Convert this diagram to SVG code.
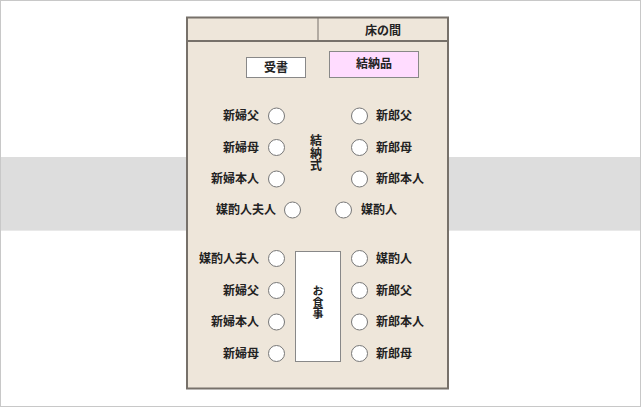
<svg xmlns="http://www.w3.org/2000/svg" width="641" height="407" viewBox="0 0 641 407">
<style>
text{font-family:"Noto Sans CJK JP","Noto Sans CJK SC",sans-serif;font-size:12px;font-weight:bold;fill:#222}
.seat{fill:#fff;stroke:#777;stroke-width:1}
.l{text-anchor:end}
.m{text-anchor:middle}
.v{writing-mode:vertical-rl;text-anchor:middle;letter-spacing:0.5px}
.box{stroke:#888;stroke-width:1}
</style>
<rect id="frame" x="0.5" y="0.5" width="640" height="406" fill="#fff" stroke="#c8c8c8"/>
<g id="band">
<rect x="1" y="157" width="639" height="73" fill="#dddddd"/>
<rect x="1" y="230" width="639" height="1" fill="#e9e9e9"/>
</g>
<g id="room">
<rect x="187" y="17.5" width="261" height="371" fill="#eee6da" stroke="#77716a" stroke-width="2"/>
<line x1="187" y1="41" x2="448" y2="41" stroke="#77716a" stroke-width="2"/>
<line x1="318" y1="17.5" x2="318" y2="41" stroke="#77716a" stroke-width="1"/>
<text class="m" x="383" y="35">床の間</text>
</g>
<g id="ukesho"><rect class="box" x="246.5" y="57.5" width="59" height="20" fill="#fff"/><text class="m" x="276" y="72">受書</text></g>
<g id="yuinouhin"><rect class="box" x="329.5" y="51.5" width="89" height="26" fill="#ffdcff"/><text class="m" x="374" y="68">結納品</text></g>
<g id="yuinoushiki"><text class="v" x="316" y="153.5">結納式</text></g>
<g id="seat-top-bride-father"><circle class="seat" cx="276.5" cy="116" r="8"/><text class="l" x="259" y="120">新婦父</text></g>
<g id="seat-top-bride-mother"><circle class="seat" cx="276.5" cy="147.5" r="8"/><text class="l" x="259" y="151.5">新婦母</text></g>
<g id="seat-top-bride"><circle class="seat" cx="276.5" cy="179" r="8"/><text class="l" x="259" y="183">新婦本人</text></g>
<g id="seat-top-nakodo-wife"><circle class="seat" cx="292.5" cy="210" r="8"/><text class="l" x="276" y="214">媒酌人夫人</text></g>
<g id="seat-top-groom-father"><circle class="seat" cx="359.5" cy="116" r="8"/><text x="376" y="120">新郎父</text></g>
<g id="seat-top-groom-mother"><circle class="seat" cx="359.5" cy="147.5" r="8"/><text x="376" y="151.5">新郎母</text></g>
<g id="seat-top-groom"><circle class="seat" cx="359.5" cy="179" r="8"/><text x="376" y="183">新郎本人</text></g>
<g id="seat-top-nakodo"><circle class="seat" cx="343.5" cy="210" r="8"/><text x="361" y="214">媒酌人</text></g>
<g id="meal-table"><rect class="box" x="295.5" y="251.5" width="45" height="110" fill="#fff"/><text class="v" x="318" y="303" style="font-size:11px">お食事</text></g>
<g id="seat-bot-nakodo-wife"><circle class="seat" cx="276.5" cy="258.5" r="8"/><text class="l" x="259" y="262.5">媒酌人夫人</text></g>
<g id="seat-bot-bride-father"><circle class="seat" cx="276.5" cy="290.5" r="8"/><text class="l" x="259" y="294.5">新婦父</text></g>
<g id="seat-bot-bride"><circle class="seat" cx="276.5" cy="322" r="8"/><text class="l" x="259" y="326">新婦本人</text></g>
<g id="seat-bot-bride-mother"><circle class="seat" cx="276.5" cy="353.5" r="8"/><text class="l" x="259" y="357.5">新婦母</text></g>
<g id="seat-bot-nakodo"><circle class="seat" cx="359.5" cy="258.5" r="8"/><text x="376" y="262.5">媒酌人</text></g>
<g id="seat-bot-groom-father"><circle class="seat" cx="359.5" cy="290.5" r="8"/><text x="376" y="294.5">新郎父</text></g>
<g id="seat-bot-groom"><circle class="seat" cx="359.5" cy="322" r="8"/><text x="376" y="326">新郎本人</text></g>
<g id="seat-bot-groom-mother"><circle class="seat" cx="359.5" cy="353.5" r="8"/><text x="376" y="357.5">新郎母</text></g>
<g id="connectors"></g>
</svg>
